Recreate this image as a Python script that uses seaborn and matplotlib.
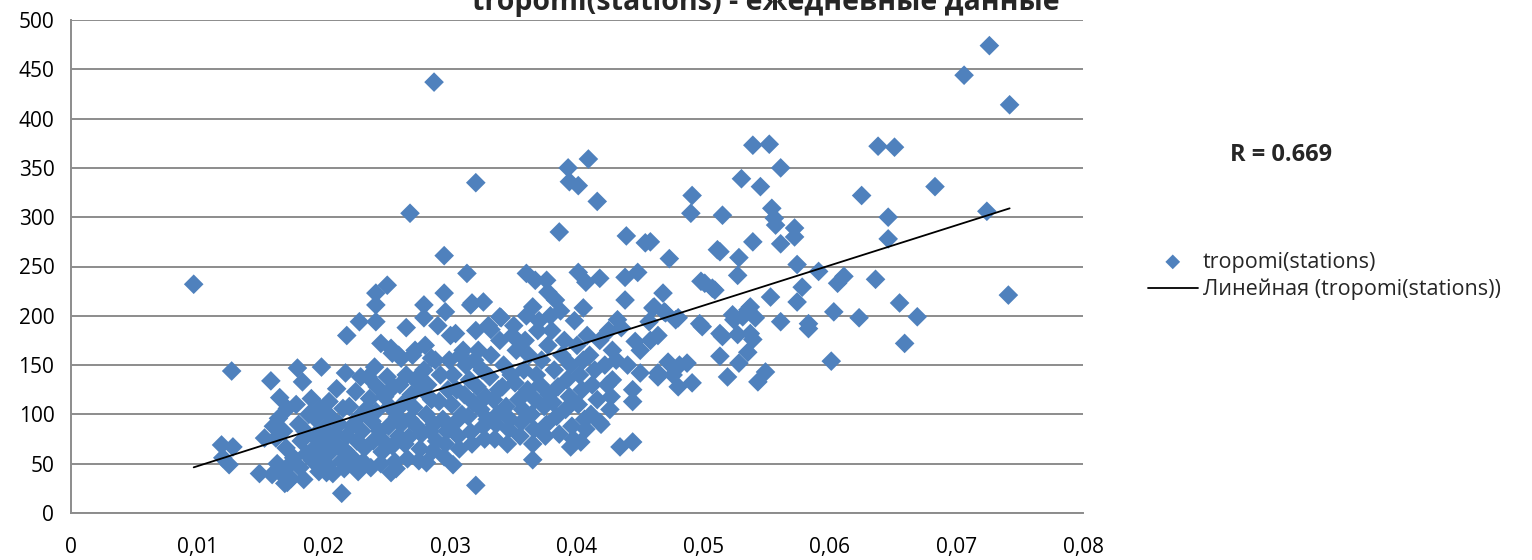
import numpy as np
import pandas as pd
import matplotlib
matplotlib.use("Agg")
import matplotlib.pyplot as plt
import seaborn as sns

# --- data (x = tropomi, y = stations) ---
# sparse points and outliers, left / middle part
outer_x = [0.0097, 0.0127, 0.0119, 0.0128, 0.0125, 0.0120, 0.0149, 0.0159, 0.0153, 0.0158,
           0.0171, 0.0179, 0.0198, 0.0183, 0.0165, 0.0218, 0.0228, 0.0241, 0.0241, 0.0217,
           0.0229, 0.0245, 0.0254, 0.0261, 0.0265, 0.0214, 0.0253, 0.0202, 0.0241, 0.0250,
           0.0268, 0.0287, 0.0320, 0.0295, 0.0313, 0.0279, 0.0295, 0.0316, 0.0326, 0.0281,
           0.0302, 0.0320, 0.0365, 0.0393, 0.0409, 0.0394, 0.0401, 0.0416, 0.0386, 0.0439,
           0.0360, 0.0367, 0.0376, 0.0401, 0.0407, 0.0418, 0.0438, 0.0448, 0.0454, 0.0365,
           0.0377, 0.0383, 0.0405, 0.0438, 0.0434, 0.0444, 0.0395, 0.0403, 0.0418, 0.0444,
           0.0427, 0.0279, 0.0296, 0.0304, 0.0285, 0.0272, 0.0332, 0.0339, 0.0259, 0.0253,
           0.0317]
outer_y = [232, 144, 69, 67, 49, 56, 40, 39, 76, 134,
           31, 147, 148, 133, 117, 180, 194, 211, 194, 142,
           138, 172, 162, 157, 188, 20, 41, 41, 223, 231,
           304, 437, 335, 261, 243, 211, 223, 211, 214, 51,
           49, 28, 54, 350, 359, 336, 332, 316, 285, 281,
           243, 236, 236, 244, 234, 238, 239, 244, 274, 209,
           224, 216, 208, 216, 67, 72, 67, 72, 92, 113,
           118, 198, 204, 182, 157, 165, 186, 199, 160, 167,
           213]

# right part, x > 0.043
right_x = [0.0539, 0.0552, 0.0561, 0.0530, 0.0545, 0.0491, 0.0490, 0.0515, 0.0554, 0.0556,
           0.0557, 0.0572, 0.0572, 0.0561, 0.0539, 0.0513, 0.0473, 0.0528, 0.0574, 0.0591,
           0.0527, 0.0501, 0.0509, 0.0611, 0.0606, 0.0468, 0.0578, 0.0553, 0.0574, 0.0460,
           0.0470, 0.0480, 0.0537, 0.0523, 0.0541, 0.0603, 0.0561, 0.0583, 0.0497, 0.0531,
           0.0499, 0.0583, 0.0515, 0.0527, 0.0539, 0.0535, 0.0513, 0.0528, 0.0487, 0.0472,
           0.0601, 0.0519, 0.0549, 0.0543, 0.0480, 0.0491, 0.0464, 0.0458, 0.0726, 0.0706,
           0.0742, 0.0638, 0.0651, 0.0683, 0.0646, 0.0724, 0.0646, 0.0636, 0.0655, 0.0741,
           0.0669, 0.0623, 0.0659, 0.0625, 0.0432, 0.0435, 0.0457, 0.0464, 0.0446, 0.0450,
           0.0431, 0.0440, 0.0450, 0.0464, 0.0444, 0.0428, 0.0537, 0.0524, 0.0535, 0.0513,
           0.0498, 0.0507, 0.0511, 0.0458, 0.0461, 0.0469, 0.0478, 0.0476, 0.0481]
right_y = [373, 374, 350, 339, 331, 322, 304, 302, 309, 299,
           292, 289, 280, 273, 275, 265, 258, 259, 252, 245,
           241, 233, 226, 240, 233, 223, 229, 219, 214, 208,
           203, 198, 209, 201, 198, 204, 194, 192, 192, 199,
           189, 187, 179, 181, 176, 163, 159, 152, 152, 153,
           154, 138, 143, 133, 128, 132, 138, 175, 474, 444,
           414, 372, 371, 331, 300, 306, 278, 237, 213, 221,
           199, 198, 172, 322, 196, 188, 194, 180, 174, 165,
           155, 150, 142, 142, 125, 135, 182, 196, 206, 182,
           235, 228, 267, 275, 209, 204, 196, 140, 150]

# dense cloud around the trend line
cloud_x = [0.0160, 0.0162, 0.0163, 0.0166, 0.0164,
           0.0168, 0.0170, 0.0172, 0.0174, 0.0171, 0.0176, 0.0169,
           0.0178, 0.0180, 0.0182, 0.0181, 0.0184, 0.0186, 0.0188, 0.0185,
           0.0190, 0.0192, 0.0191, 0.0194, 0.0196, 0.0193, 0.0197, 0.0199,
           0.0200, 0.0202, 0.0204, 0.0203, 0.0206, 0.0207, 0.0205, 0.0209,
           0.0210, 0.0212, 0.0211, 0.0214, 0.0216, 0.0215, 0.0218, 0.0217,
           0.0220, 0.0222, 0.0221, 0.0224, 0.0226, 0.0225, 0.0228, 0.0227,
           0.0230, 0.0232, 0.0231, 0.0234, 0.0236, 0.0235, 0.0238, 0.0237, 0.0239,
           0.0240, 0.0242, 0.0241, 0.0244, 0.0246, 0.0245, 0.0248, 0.0247,
           0.0250, 0.0252, 0.0251, 0.0254, 0.0256, 0.0255, 0.0258, 0.0257, 0.0259,
           0.0260, 0.0262, 0.0261, 0.0264, 0.0266, 0.0265, 0.0268, 0.0267, 0.0269,
           0.0270, 0.0272, 0.0271, 0.0274, 0.0276, 0.0275, 0.0278, 0.0277, 0.0279,
           0.0280, 0.0282, 0.0281, 0.0284, 0.0286, 0.0285, 0.0288, 0.0287, 0.0289,
           0.0290, 0.0292, 0.0291, 0.0294, 0.0296, 0.0295, 0.0298, 0.0297, 0.0299,
           0.0300, 0.0302, 0.0301, 0.0304, 0.0306, 0.0305, 0.0308, 0.0307, 0.0309,
           0.0310, 0.0312, 0.0311, 0.0314, 0.0316, 0.0315, 0.0318, 0.0317, 0.0319,
           0.0320, 0.0322, 0.0321, 0.0324, 0.0326, 0.0325, 0.0328, 0.0327, 0.0329,
           0.0330, 0.0332, 0.0331, 0.0334, 0.0336, 0.0335, 0.0338, 0.0337, 0.0339,
           0.0340, 0.0342, 0.0341, 0.0344, 0.0346, 0.0345, 0.0348, 0.0347, 0.0349,
           0.0350, 0.0352, 0.0351, 0.0354, 0.0356, 0.0355, 0.0358, 0.0357, 0.0359,
           0.0360, 0.0362, 0.0361, 0.0364, 0.0366, 0.0365, 0.0368, 0.0367, 0.0369,
           0.0370, 0.0372, 0.0371, 0.0374, 0.0376, 0.0375, 0.0378, 0.0377, 0.0379,
           0.0380, 0.0382, 0.0381, 0.0384, 0.0386, 0.0385, 0.0388, 0.0387,
           0.0390, 0.0392, 0.0391, 0.0394, 0.0396, 0.0395, 0.0398, 0.0397,
           0.0400, 0.0402, 0.0401, 0.0404, 0.0406, 0.0405, 0.0408, 0.0407,
           0.0410, 0.0412, 0.0411, 0.0414, 0.0416, 0.0418, 0.0419,
           0.0422, 0.0424, 0.0426, 0.0428, 0.0425]
cloud_y = [88, 76, 50, 40, 96,
           83, 66, 48, 35, 106, 56, 30,
           110, 90, 73, 46, 34, 60, 100, 83,
           116, 78, 53, 68, 42, 96, 106, 58,
           86, 73, 113, 48, 63, 40, 98, 80,
           126, 90, 68, 53, 45, 106, 78, 63,
           108, 88, 58, 48, 73, 123, 98, 42,
           83, 66, 52, 106, 116, 138, 93, 46, 73,
           148, 128, 103, 83, 62, 50, 118, 73,
           138, 108, 88, 68, 52, 128, 98, 45, 78,
           130, 110, 90, 70, 55, 140, 95, 77, 120,
           160, 135, 107, 87, 65, 53, 125, 80, 145,
           170, 130, 100, 83, 63, 115, 155, 90, 73,
           190, 140, 113, 95, 70, 57, 125, 83, 155,
           180, 140, 110, 92, 78, 125, 160, 65, 100,
           165, 150, 120, 98, 82, 135, 112, 70, 155,
           185, 165, 128, 105, 88, 145, 118, 75, 95,
           190, 160, 138, 115, 90, 75, 125, 100, 175,
           198, 150, 128, 108, 85, 70, 140, 95, 180,
           190, 165, 132, 115, 92, 78, 145, 105, 175,
           200, 160, 125, 100, 85, 70, 140, 115, 185,
           195, 155, 130, 108, 90, 78, 120, 170, 200,
           185, 145, 112, 98, 80, 128, 160, 205,
           175, 135, 105, 118, 88, 150, 195, 75,
           170, 140, 110, 125, 95, 155, 180, 85,
           160, 130, 100, 145, 115, 175, 90,
           150, 130, 105, 165, 185]

x_ticks = [0, 0.01, 0.02, 0.03, 0.04, 0.05, 0.06, 0.07, 0.08]
x_tick_labels = ["0", "0,01", "0,02", "0,03", "0,04", "0,05", "0,06", "0,07", "0,08"]
y_ticks = [0, 50, 100, 150, 200, 250, 300, 350, 400, 450, 500]

title = "tropomi(stations) - ежедневные данные"
series_label = "tropomi(stations)"
trend_label = "Линейная (tropomi(stations))"
r_text = "R = 0.669"

df = pd.DataFrame({
    "tropomi": outer_x + right_x + cloud_x,
    "stations": outer_y + right_y + cloud_y,
})

sns.set_theme(style="white")
plt.rcParams['font.family'] = ['Open Sans', 'DejaVu Sans']

blue = "#4F81BD"
grid_c = "#8C8C8C"

fig = plt.figure(figsize=(15.32, 5.6), dpi=100)
ax = fig.add_axes([71 / 1532, 47 / 560, (1083 - 71) / 1532, (513 - 20) / 560])

ax.yaxis.grid(True, color=grid_c, linewidth=1.4)
ax.set_axisbelow(True)

sns.scatterplot(data=df, x="tropomi", y="stations", ax=ax, marker="D", s=100,
                color=blue, edgecolor="none", linewidth=0, label=series_label, zorder=3)
sns.regplot(data=df, x="tropomi", y="stations", ax=ax, scatter=False, ci=None,
            line_kws=dict(color="black", linewidth=1.3, zorder=4), label=trend_label)

ax.set_xlim(0, 0.08)
ax.set_ylim(0, 500)
ax.set_xticks(x_ticks)
ax.set_xticklabels(x_tick_labels)
ax.set_yticks(y_ticks)
ax.set_xlabel("")
ax.set_ylabel("")
ax.tick_params(axis="both", which="major", labelsize=15, colors=grid_c,
               labelcolor="black", direction="out", length=6, width=1.4)
ax.tick_params(axis="x", pad=11)
ax.tick_params(axis="y", pad=6)
for side in ["top", "right"]:
    ax.spines[side].set_visible(False)
for side in ["left", "bottom"]:
    ax.spines[side].set_color(grid_c)
    ax.spines[side].set_linewidth(1.4)

# title partly cut at the top edge, as in the original
fig.text(0.5, 1 - 10 / 560, title, ha="center", va="baseline",
         fontsize=20.5, fontweight="bold")
fig.text(1281 / 1532, 1 - 155 / 560, r_text, ha="center", va="center",
         fontsize=17, fontweight="bold")

handles, labels = ax.get_legend_handles_labels()
if ax.get_legend():
    ax.get_legend().remove()
fig.legend(handles, labels, loc="center left", bbox_to_anchor=(1148 / 1532, 1 - 276 / 560),
           frameon=False, fontsize=15.5, handlelength=2.3, handletextpad=0.25,
           labelspacing=0.3, borderpad=0, borderaxespad=0, markerscale=0.75)

fig.savefig("out.png", dpi=100)
